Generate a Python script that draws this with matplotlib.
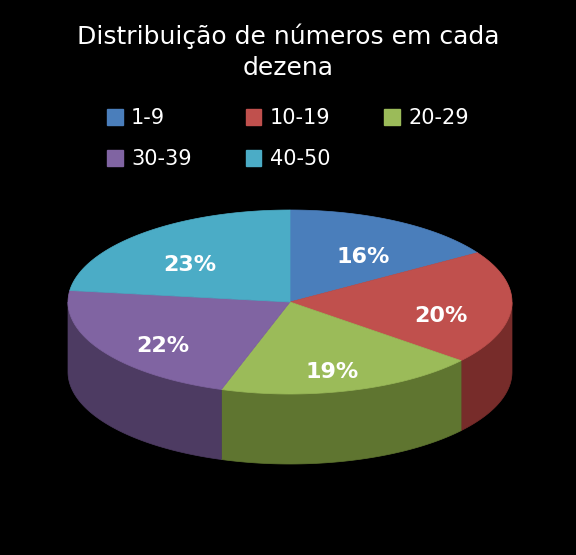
import numpy as np
import matplotlib
matplotlib.use('Agg')
import matplotlib.pyplot as plt
from matplotlib.patches import Patch, Polygon

labels = ['1-9', '10-19', '20-29', '30-39', '40-50']
values = [16, 20, 19, 22, 23]
top_colors = ['#4a7ebb', '#c0504d', '#9bbb59', '#8064a2', '#4bacc6']
side_colors = ['#2c4d75', '#772c2a', '#5f7530', '#4d3b62', '#276a7c']

cx, cy, rx, ry, depth = 290, 302, 222, 92, 70

fig = plt.figure(figsize=(5.76, 5.55), dpi=100, facecolor='black')
ax = fig.add_axes([0, 0, 1, 1])
ax.set_facecolor('black')
ax.set_xlim(0, 576)
ax.set_ylim(555, 0)
ax.axis('off')


def edge(t):
    return cx + rx * np.cos(t), cy - ry * np.sin(t)


fracs = np.array(values) / sum(values)
start = np.pi / 2
angles = []
for f in fracs:
    end = start - f * 2 * np.pi
    angles.append((start, end))
    start = end

# sides first
for (a0, a1), sc in zip(angles, side_colors):
    t = np.linspace(a0, a1, 200)
    t = t[np.sin(t) <= 0.001]
    if len(t) < 2:
        continue
    x, y = edge(t)
    pts = np.column_stack([np.r_[x, x[::-1]], np.r_[y, y[::-1] + depth]])
    ax.add_patch(Polygon(pts, closed=True, facecolor=sc, edgecolor=sc, lw=0.5))

# top surfaces
for (a0, a1), tc, v in zip(angles, top_colors, values):
    t = np.linspace(a0, a1, 200)
    x, y = edge(t)
    pts = np.column_stack([np.r_[cx, x], np.r_[cy, y]])
    ax.add_patch(Polygon(pts, closed=True, facecolor=tc, edgecolor=tc, lw=0.5))
    m = (a0 + a1) / 2
    lx, ly = cx + rx * 0.68 * np.cos(m), cy - ry * 0.68 * np.sin(m) + 10
    ax.text(lx, ly, f'{v}%', color='white', fontsize=16, fontweight='bold',
            ha='center', va='center')

ax.text(288, 52, 'Distribuição de números em cada\ndezena', color='white',
        fontsize=18, ha='center', va='center', linespacing=1.35)

handles = [Patch(facecolor=c, edgecolor=c) for c in top_colors]
order = [0, 3, 1, 4, 2]
leg = ax.legend([handles[i] for i in order], [labels[i] for i in order],
                ncol=3, loc='center', bbox_to_anchor=(0.5, 0.75),
                frameon=False, fontsize=15, labelcolor='white',
                handlelength=0.75, handleheight=0.75, handletextpad=0.4,
                columnspacing=2.6, labelspacing=1.0)

fig.savefig('out.png', dpi=100, facecolor='black')
